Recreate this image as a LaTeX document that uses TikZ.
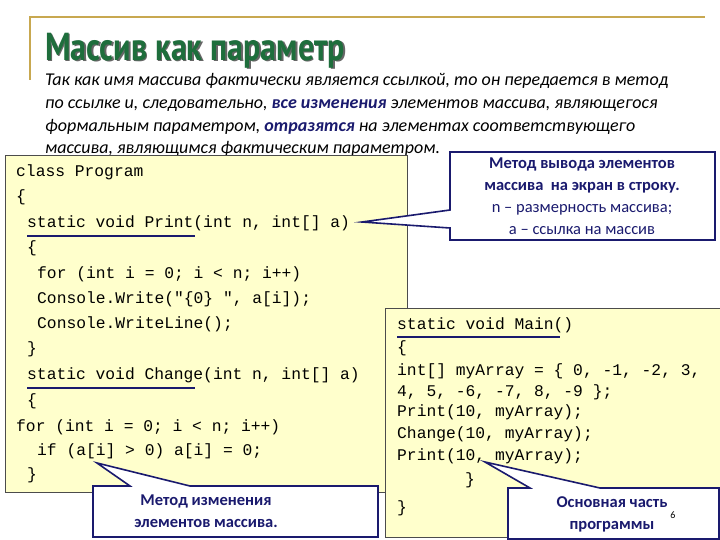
\documentclass[tikz,border=0pt]{standalone}
\usepackage{fontspec}
\setmainfont{Carlito}
\newfontfamily\codefont{Liberation Mono}
\newfontfamily\titlefont{PT Sans}
\definecolor{gold}{HTML}{C8A850}
\definecolor{ttl}{HTML}{1E6E3C}
\definecolor{navy}{HTML}{1A1A6E}
\definecolor{cy}{HTML}{FFFFCC}
\newcommand{\ttltext}{\scalebox{0.82}[1]{\titlefont\bfseries\fontsize{39}{40}\selectfont Массив как параметр}}
\begin{document}
\begin{tikzpicture}[x=1pt,y=-1pt,
 code/.style={anchor=base west,inner sep=0pt,font=\codefont\fontsize{16.3}{18}\selectfont},
 para/.style={anchor=base west,inner sep=0pt,font=\itshape\fontsize{18}{20}\selectfont},
 ctext/.style={align=center,text=navy,font=\bfseries\fontsize{16.5}{22}\selectfont,inner sep=0pt},
 callout/.style={draw=navy,line width=1.6pt,fill=white},
 codebox/.style={draw=black!70,line width=0.8pt,fill=cy},
 uline/.style={draw=navy,line width=1.3pt}]
\useasboundingbox (0,0) rectangle (720,540);
\fill[white] (0,0) rectangle (720,540);
\draw[gold,line width=1.5pt] (30,80) -- (30,17) -- (705,17);
\node[anchor=base west,inner sep=0pt,text=black!60] (ts) at (46.5,62) {\ttltext};
\node[anchor=base west,inner sep=0pt,text=ttl] (t) at (45,60.5) {\ttltext};
\node[para] (p1) at (45,86) {Так как имя массива фактически является ссылкой, то он передается в метод};
\node[para] (p2) at (45,109) {по ссылке и, следовательно, {\bfseries\color{navy}все изменения} элементов массива, являющегося};
\node[para] (p3) at (45,132) {формальным параметром, {\bfseries\color{navy}отразятся} на элементах соответствующего};
\node[para] (p4) at (45,154) {массива, являющимся фактическим параметром.};
% left code box
\draw[codebox] (5,155) rectangle (407,492);
\node[code] (l1) at (16,177) {class Program};
\node[code] (l2) at (16,202) {\{};
\node[code] (l3) at (27,227) {static void Print(int n, int[] a)};
\node[code] (l4) at (27,252) {\{};
\node[code] (l5) at (37,278) {for (int i = 0; i < n; i++)};
\node[code] (l6) at (37,303) {Console.Write("\{0\} ", a[i]);};
\node[code] (l7) at (37,328) {Console.WriteLine();};
\node[code] (l8) at (27,353) {\}};
\node[code] (l9) at (27,379) {static void Change(int n, int[] a)};
\node[code] (l10) at (27,405) {\{};
\node[code] (l11) at (16,431) {for (int i = 0; i < n; i++)};
\node[code] (l12) at (37,455) {if (a[i] > 0) a[i] = 0;};
\node[code] (l13) at (27,479) {\}};
\draw[uline] (27,236) -- (195,236);
\draw[uline] (27,388) -- (195,388);
% right code box
\draw[codebox] (385,308) rectangle (720,537);
\node[code] (r1) at (397,329) {static void Main()};
\node[code] (r2) at (397,352) {\{};
\node[code] (r3) at (397,375) {int[] myArray = \{ 0, -1, -2, 3,};
\node[code] (r4) at (397,396) {4, 5, -6, -7, 8, -9 \};};
\node[code] (r5) at (397,416) {Print(10, myArray);};
\node[code] (r6) at (397,438) {Change(10, myArray);};
\node[code] (r7) at (397,460) {Print(10, myArray);};
\node[code] (r8) at (465,484) {\}};
\node[code] (r9) at (397,512) {\}};
\draw[uline] (397,337) -- (560,337);
% callouts
\coordinate (tp1) at (362,222);
\coordinate (tp2) at (97,463);
\coordinate (tp3) at (485,462);
\draw[callout,line join=miter] (450,152) -- (715,152) -- (715,240) -- (450,240) -- (450,228) -- (tp1) -- (450,210) -- cycle;
\node[ctext] (c1) at (582,196) {Метод вывода элементов\\массива\ \ на экран в строку.\\{\mdseries n – размерность массива;}\\{\mdseries a – ссылка на массив}};
\draw[callout] (93,486) -- (130,486) -- (tp2) -- (190,486) -- (378,486) -- (378,537) -- (93,537) -- cycle;
\node[ctext] (c2) at (206,511) {Метод изменения\\элементов массива.};
\draw[callout] (508,488) -- (530,488) -- (tp3) -- (600,488) -- (719,488) -- (719,539) -- (508,539) -- cycle;
\node[ctext] (c3) at (612,514) {Основная часть\\программы};
\node[inner sep=0pt,font=\fontsize{10}{12}\selectfont] (pg) at (673,515) {6};
\end{tikzpicture}
\end{document}
